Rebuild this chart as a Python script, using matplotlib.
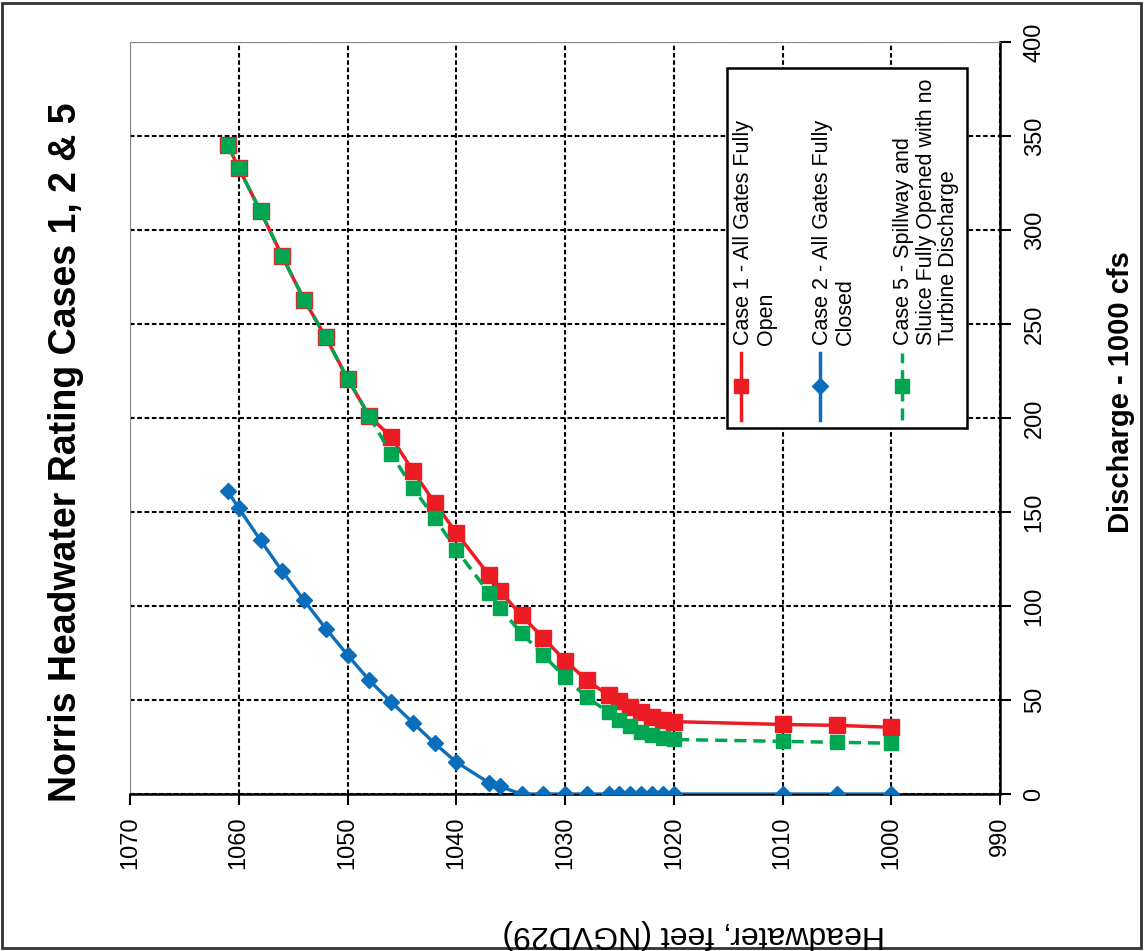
import numpy as np
import matplotlib
matplotlib.use('Agg')
import matplotlib.pyplot as plt
from matplotlib.lines import Line2D
from matplotlib.patches import Rectangle

# headwater elevation (ft) and discharge (1000 cfs)
headwater = [1061, 1060, 1058, 1056, 1054, 1052, 1050, 1048, 1046, 1044, 1042, 1040,
             1037, 1036, 1034, 1032, 1030, 1028, 1026, 1025, 1024, 1023, 1022, 1021,
             1020, 1010, 1005, 1000]
case1 = [345, 333, 310, 286, 263, 243, 221, 201, 190, 172, 155, 139,
         116.5, 108, 95, 83, 71, 60.5, 52.5, 49.5, 46.5, 43.5, 41, 39.5,
         38.5, 37, 36.5, 35.5]
case2 = [161, 152, 135, 118.5, 103, 88, 74, 60.5, 49, 38, 27, 17,
         6, 4, 0, 0, 0, 0, 0, 0, 0, 0, 0, 0,
         0, 0, 0, 0]
case5 = [345, 333, 310, 286, 263, 243, 221, 201, 181, 163, 147, 130,
         107, 99, 85.5, 74, 62, 51.5, 43.5, 39.5, 36, 33, 31.5, 30,
         29, 28, 27.5, 27]
series_labels = ['Case 1 - All Gates Fully\nOpen',
                 'Case 2 - All Gates Fully\nClosed',
                 'Case 5 - Spillway and\nSluice Fully Opened with no\nTurbine Discharge']
hw_ticks = np.arange(990, 1071, 10)
q_ticks = np.arange(0, 401, 50)

red = '#ED1C24'
blue = '#0A6EBD'
green = '#00A651'
green_dash = (0, (3.5, 2))

plt.rcParams['font.family'] = ['Liberation Sans', 'DejaVu Sans']

W, H = 1144, 951
fig = plt.figure(figsize=(W / 100, H / 100), dpi=100)
ax = fig.add_axes([130 / W, 1 - 794 / H, 870 / W, 752 / H])

ax.plot(headwater, case1, color=red, lw=2.5, marker='s', ms=11, zorder=3)
ax.plot(headwater, case2, color=blue, lw=2.4, marker='D', ms=8.5, zorder=3)
ax.plot(headwater, case5, color=green, lw=2.5, ls=green_dash, marker='s', ms=10.5, zorder=4)

ax.set_xlim(1070, 990)
ax.set_ylim(0, 400)
ax.set_xticks(hw_ticks)
ax.set_yticks(q_ticks)
ax.yaxis.tick_right()
ax.tick_params(axis='x', direction='out', length=8, width=1.5, labelsize=17,
               labelrotation=90, pad=8)
ax.tick_params(axis='y', direction='out', length=8, width=1.5, labelsize=17,
               labelrotation=90, pad=9)
for lab in ax.get_yticklabels():
    lab.set_verticalalignment('center')
ax.grid(True, color='black', linestyle=(0, (2.2, 1.3)), linewidth=1.5, zorder=1)
ax.set_axisbelow(True)

ax.spines['bottom'].set_linewidth(1.8)
ax.spines['right'].set_linewidth(1.8)
ax.spines['left'].set_color('#888888')
ax.spines['top'].set_color('#888888')

# rotated legend drawn by hand
def ax_x(px):
    return (px - 130) / 870

def ax_y(py):
    return (794 - py) / 752

ax.add_patch(Rectangle((ax_x(727), ax_y(428)), ax_x(967) - ax_x(727), ax_y(68) - ax_y(428),
                       transform=ax.transAxes, facecolor='white', edgecolor='black',
                       lw=1.8, zorder=5))
handles = [(741, red, '-', 's', 10), (820, blue, '-', 'D', 8), (902, green, green_dash, 's', 9.5)]
text_left = [733, 812, 893]
for (hx, c, ls, m, ms), tx, lab in zip(handles, text_left, series_labels):
    ln = Line2D([ax_x(hx)] * 3, [ax_y(420), ax_y(386), ax_y(353)], transform=ax.transAxes,
                color=c, ls=ls, lw=2.5, marker=m, ms=ms, markevery=[1], zorder=6)
    ax.add_line(ln)
    ax.text(ax_x(tx), ax_y(345), lab, transform=ax.transAxes, rotation=90,
            ha='left', va='bottom', fontsize=15.5, linespacing=1.1, zorder=6)

fig.text(66 / W, 1 - 452 / H, 'Norris Headwater Rating Cases 1, 2 & 5', rotation=90,
         ha='center', va='center', fontsize=27, fontweight='bold')
fig.text(1121 / W, 1 - 392 / H, 'Discharge - 1000 cfs', rotation=90,
         ha='center', va='center', fontsize=21, fontweight='bold')
fig.text(694 / W, 1 - 934 / H, 'Headwater, feet (NGVD29)', rotation=180,
         ha='center', va='center', fontsize=23)

fig.add_artist(Rectangle((0.002, 0.003), 0.995, 0.994, transform=fig.transFigure,
                         fill=False, edgecolor='#333333', lw=2))

fig.savefig('out.png', dpi=100)
